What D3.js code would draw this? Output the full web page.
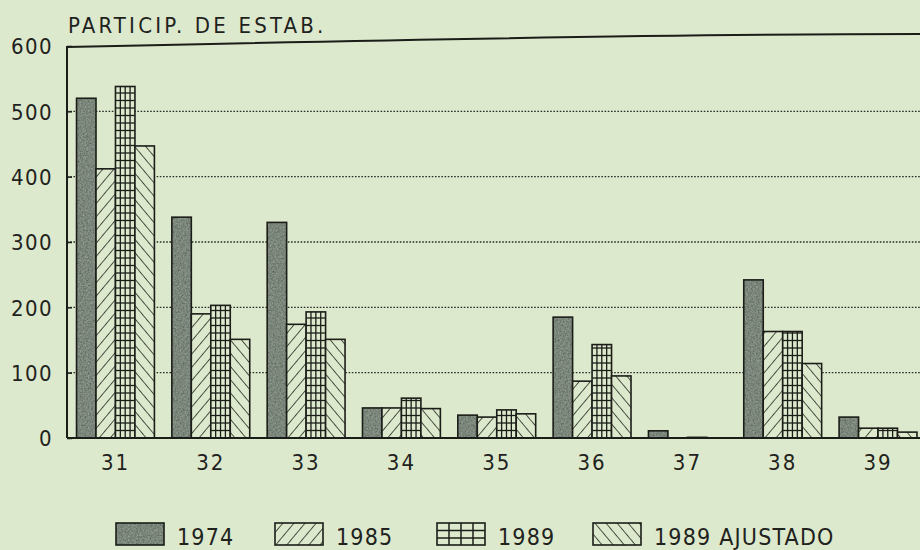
<!DOCTYPE html>
<html>
<head>
<meta charset="utf-8">
<script src="https://cdn.jsdelivr.net/npm/d3@7"></script>
<style>
  html, body { margin: 0; padding: 0; background: #dde9cc; }
  svg { display: block; }
  text { font-family: "DejaVu Sans Condensed", "DejaVu Sans", sans-serif; font-stretch: condensed; fill: #1f221d; }
</style>
</head>
<body>
<svg id="chart" width="920" height="550"></svg>
<script>
// ---- data ----
const categories = ["31", "32", "33", "34", "35", "36", "37", "38", "39"];
const v1974 = [520, 338, 330, 46, 35, 185, 11, 242, 32];
const v1985 = [412, 190, 174, 46, 32, 87, 0, 163, 15];
const v1989 = [538, 203, 193, 61, 43, 143, 1, 163, 15];
const v1989aj = [447, 151, 151, 45, 37, 95, 0, 114, 9];
const seriesNames = ["1974", "1985", "1989", "1989 AJUSTADO"];
const yTicks = [0, 100, 200, 300, 400, 500, 600];
const title = "PARTICIP. DE ESTAB.";

const series = [
  { key: "1974", values: v1974, kind: "solid" },
  { key: "1985", values: v1985, kind: "fwd" },
  { key: "1989", values: v1989, kind: "grid" },
  { key: "1989 AJUSTADO", values: v1989aj, kind: "back" }
];

const BG = "#dde9cc";
const DARK = "#515d50";
const INK = "#1b1d19";

const svg = d3.select("#chart");
svg.append("rect").attr("width", 920).attr("height", 550).attr("fill", BG);

// patterns
const defs = svg.append("defs");
function hatch(id, angle, w) {
  const p = defs.append("pattern").attr("id", id)
    .attr("patternUnits", "userSpaceOnUse")
    .attr("width", w).attr("height", w)
    .attr("patternTransform", `rotate(${angle})`);
  p.append("rect").attr("width", w).attr("height", w).attr("fill", BG);
  p.append("line").attr("x1", 0).attr("y1", 0).attr("x2", 0).attr("y2", w)
    .attr("stroke", INK).attr("stroke-width", 1.5);
}
hatch("fwd", 40, 8.5);
hatch("back", -40, 8.5);
const f = defs.append("filter").attr("id", "speck");
f.append("feTurbulence").attr("type", "fractalNoise").attr("baseFrequency", 0.6).attr("numOctaves", 2).attr("result", "n");
f.append("feColorMatrix").attr("in", "n").attr("type", "matrix")
  .attr("values", "0 0 0 0 0.32  0 0 0 0 0.37  0 0 0 0 0.32  0 0 0 -1.2 1.1").attr("result", "c");
f.append("feComposite").attr("in", "c").attr("in2", "SourceGraphic").attr("operator", "in").attr("result", "m");
f.append("feMerge").call(m => { m.append("feMergeNode").attr("in", "SourceGraphic"); m.append("feMergeNode").attr("in", "m"); });

// scales
const y = d3.scaleLinear().domain([0, 600]).range([438, 46]);
const x0 = d3.scaleBand().domain(categories).range([67, 926.5]).paddingInner(0.183).paddingOuter(0.1);
const x1 = d3.scaleBand().domain(seriesNames).range([0, x0.bandwidth()]);

const axisX = 67;
const rightX = 920;

// gridlines (dotted)
svg.append("g").selectAll("line").data(yTicks.filter(t => t > 0 && t < 600)).join("line")
  .attr("x1", axisX).attr("x2", rightX)
  .attr("y1", d => y(d)).attr("y2", d => y(d))
  .attr("stroke", "#2a2d28").attr("stroke-width", 1.3)
  .attr("stroke-dasharray", "1.6,1.6");

// top frame line (slight curve as in the photographed print)
svg.append("path")
  .attr("d", `M${axisX},${y(600) + 1} Q ${640},${y(600) - 12} ${rightX},${y(600) - 12}`)
  .attr("fill", "none").attr("stroke", INK).attr("stroke-width", 2);

// bars
series.forEach(s => {
  categories.forEach((c, i) => {
    const v = s.values[i];
    const bx = x0(c) + x1(s.key);
    const bw = x1.bandwidth();
    const top = y(v), base = y(0);
    const g = svg.append("g");
    let fill = BG;
    if (s.kind === "solid") fill = DARK;
    if (s.kind === "fwd") fill = "url(#fwd)";
    if (s.kind === "back") fill = "url(#back)";
    g.append("rect").attr("x", bx).attr("y", top).attr("width", bw).attr("height", base - top)
      .attr("fill", fill).attr("filter", s.kind === "solid" ? "url(#speck)" : null);
    if (s.kind === "grid" && base - top > 2) {
      for (let k = 1; k < 4; k++) {
        g.append("line").attr("x1", bx + bw * k / 4).attr("x2", bx + bw * k / 4)
          .attr("y1", top).attr("y2", base).attr("stroke", INK).attr("stroke-width", 1.3);
      }
      for (let yy = base - 7.5; yy > top + 1; yy -= 7.5) {
        g.append("line").attr("x1", bx).attr("x2", bx + bw).attr("y1", yy).attr("y2", yy)
          .attr("stroke", INK).attr("stroke-width", 1.3);
      }
    }
    g.append("rect").attr("x", bx).attr("y", top).attr("width", bw).attr("height", base - top)
      .attr("fill", "none").attr("stroke", INK).attr("stroke-width", 1.6);
  });
});

// axes lines
svg.append("line").attr("x1", axisX).attr("x2", axisX).attr("y1", y(600)).attr("y2", y(0))
  .attr("stroke", INK).attr("stroke-width", 2);
svg.append("line").attr("x1", axisX).attr("x2", rightX).attr("y1", y(0)).attr("y2", y(0))
  .attr("stroke", INK).attr("stroke-width", 2);

// y ticks + labels
const yAxis = d3.axisLeft(y).tickValues(yTicks).tickSize(-5).tickPadding(14);
const ya = svg.append("g").attr("transform", `translate(${axisX},0)`).call(yAxis);
ya.select(".domain").remove();
ya.selectAll(".tick line").attr("stroke", INK).attr("stroke-width", 1.5);
ya.selectAll(".tick text").attr("font-size", 22).attr("letter-spacing", 1.4)
  .attr("dy", "0.36em").attr("fill", "#1f221d")
  .style("font-family", '"DejaVu Sans Condensed", "DejaVu Sans", sans-serif');

// x labels
const xAxis = d3.axisBottom(x0).tickSize(0).tickPadding(16);
const xa = svg.append("g").attr("transform", `translate(0,${y(0)})`).call(xAxis);
xa.select(".domain").remove();
xa.selectAll(".tick text").attr("font-size", 22).attr("letter-spacing", 2)
  .attr("fill", "#1f221d")
  .style("font-family", '"DejaVu Sans Condensed", "DejaVu Sans", sans-serif');

// title
svg.append("text").attr("x", 68).attr("y", 33).attr("font-size", 22).attr("letter-spacing", 3.2)
  .text(title);

// legend
const legendX = [116, 275, 437, 593];
const legend = svg.append("g");
series.forEach((s, i) => {
  const lx = legendX[i];
  let fill = BG;
  if (s.kind === "solid") fill = DARK;
  if (s.kind === "fwd") fill = "url(#fwd)";
  if (s.kind === "back") fill = "url(#back)";
  legend.append("rect").attr("x", lx).attr("y", 523).attr("width", 48).attr("height", 22)
    .attr("fill", fill).attr("filter", s.kind === "solid" ? "url(#speck)" : null);
  if (s.kind === "grid") {
    for (let k = 1; k < 4; k++) legend.append("line").attr("x1", lx + 12 * k).attr("x2", lx + 12 * k)
      .attr("y1", 523).attr("y2", 545).attr("stroke", INK).attr("stroke-width", 1.5);
    [530.5, 538].forEach(yy => legend.append("line").attr("x1", lx).attr("x2", lx + 48)
      .attr("y1", yy).attr("y2", yy).attr("stroke", INK).attr("stroke-width", 1.5));
  }
  legend.append("rect").attr("x", lx).attr("y", 523).attr("width", 48).attr("height", 22)
    .attr("fill", "none").attr("stroke", INK).attr("stroke-width", 1.6);
  legend.append("text").attr("x", lx + 61).attr("y", 545).attr("font-size", 23)
    .attr("letter-spacing", 1.2).text(s.key);
});
</script>
</body>
</html>
